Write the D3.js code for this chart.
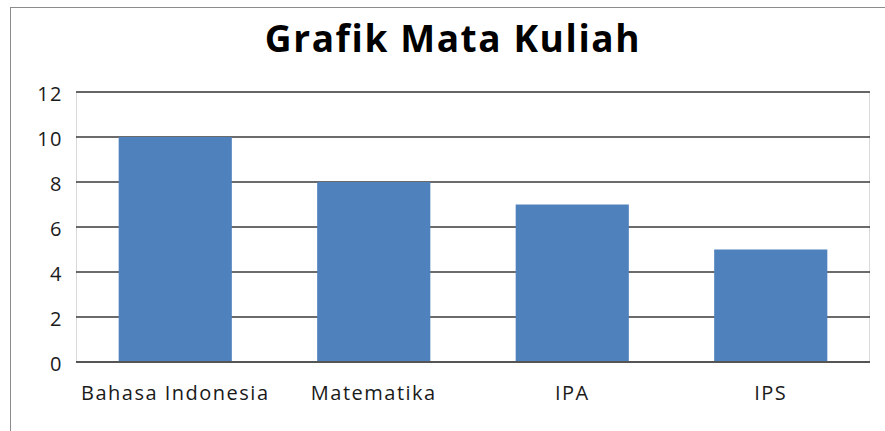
<!DOCTYPE html>
<html>
<head>
<meta charset="utf-8">
<script src="https://cdn.jsdelivr.net/npm/d3@7"></script>
<style>
  body { margin: 0; background: #fff; }
  text { font-family: "Open Sans", sans-serif; }
</style>
</head>
<body>
<div id="chart"></div>
<script>
// Data
const categories = ["Bahasa Indonesia", "Matematika", "IPA", "IPS"];
const values = [10, 8, 7, 5];
const yTicks = [0, 2, 4, 6, 8, 10, 12];

const width = 885, height = 431;
const plot = { left: 76, right: 870, top: 92, bottom: 362 };

const svg = d3.select("#chart")
    .append("svg")
    .attr("width", width)
    .attr("height", height);

// Outer chart border (clipped by the screenshot on right/bottom)
svg.append("rect")
    .attr("x", 10.5)
    .attr("y", 7.5)
    .attr("width", 890)
    .attr("height", 440)
    .attr("fill", "#fff")
    .attr("stroke", "#8c8c8c")
    .attr("stroke-width", 1);

// Title
svg.append("text")
    .attr("x", 453)
    .attr("y", 52)
    .attr("text-anchor", "middle")
    .style("font-size", "37px")
    .style("font-weight", "bold")
    .style("letter-spacing", "1.6px")
    .attr("fill", "#000")
    .text("Grafik Mata Kuliah");

const x = d3.scaleBand()
    .domain(categories)
    .range([plot.left, plot.right])
    .paddingInner(0.43)
    .paddingOuter(0.215);

const y = d3.scaleLinear()
    .domain([0, 12])
    .range([plot.bottom, plot.top]);

// Plot area side borders
svg.append("rect")
    .attr("x", plot.left + 0.5)
    .attr("y", plot.top)
    .attr("width", plot.right - plot.left - 1)
    .attr("height", plot.bottom - plot.top)
    .attr("fill", "none")
    .attr("stroke", "#d9d9d9");

// Gridlines
svg.append("g")
    .selectAll("line")
    .data(yTicks.filter(d => d > 0))
    .enter()
    .append("line")
    .attr("x1", plot.left)
    .attr("x2", plot.right)
    .attr("y1", d => y(d))
    .attr("y2", d => y(d))
    .attr("stroke", "#3a3a3a")
    .attr("stroke-width", 1.6);

// Bars
svg.append("g")
    .selectAll("rect")
    .data(values)
    .enter()
    .append("rect")
    .attr("x", (d, i) => x(categories[i]))
    .attr("y", d => y(d))
    .attr("width", x.bandwidth())
    .attr("height", d => y(0) - y(d))
    .attr("fill", "#4f81bd");

// Zero line
svg.append("line")
    .attr("x1", plot.left)
    .attr("x2", plot.right)
    .attr("y1", y(0))
    .attr("y2", y(0))
    .attr("stroke", "#555")
    .attr("stroke-width", 2);

// Y axis labels
const yAxis = svg.append("g")
    .attr("transform", `translate(${plot.left}, 2)`)
    .call(d3.axisLeft(y).tickValues(yTicks).tickSize(0).tickPadding(13));
yAxis.select(".domain").remove();
yAxis.selectAll("text")
    .style("font-size", "20px")
    .style("letter-spacing", "1.5px")
    .style("font-family", "'Open Sans', sans-serif")
    .attr("fill", "#1a1a1a");

// X axis labels
const xAxis = svg.append("g")
    .attr("transform", `translate(0, ${plot.bottom})`)
    .call(d3.axisBottom(x).tickSize(0).tickPadding(24));
xAxis.select(".domain").remove();
xAxis.selectAll("text")
    .style("font-size", "20px")
    .style("letter-spacing", "1.5px")
    .style("font-family", "'Open Sans', sans-serif")
    .attr("fill", "#1a1a1a");
</script>
</body>
</html>
